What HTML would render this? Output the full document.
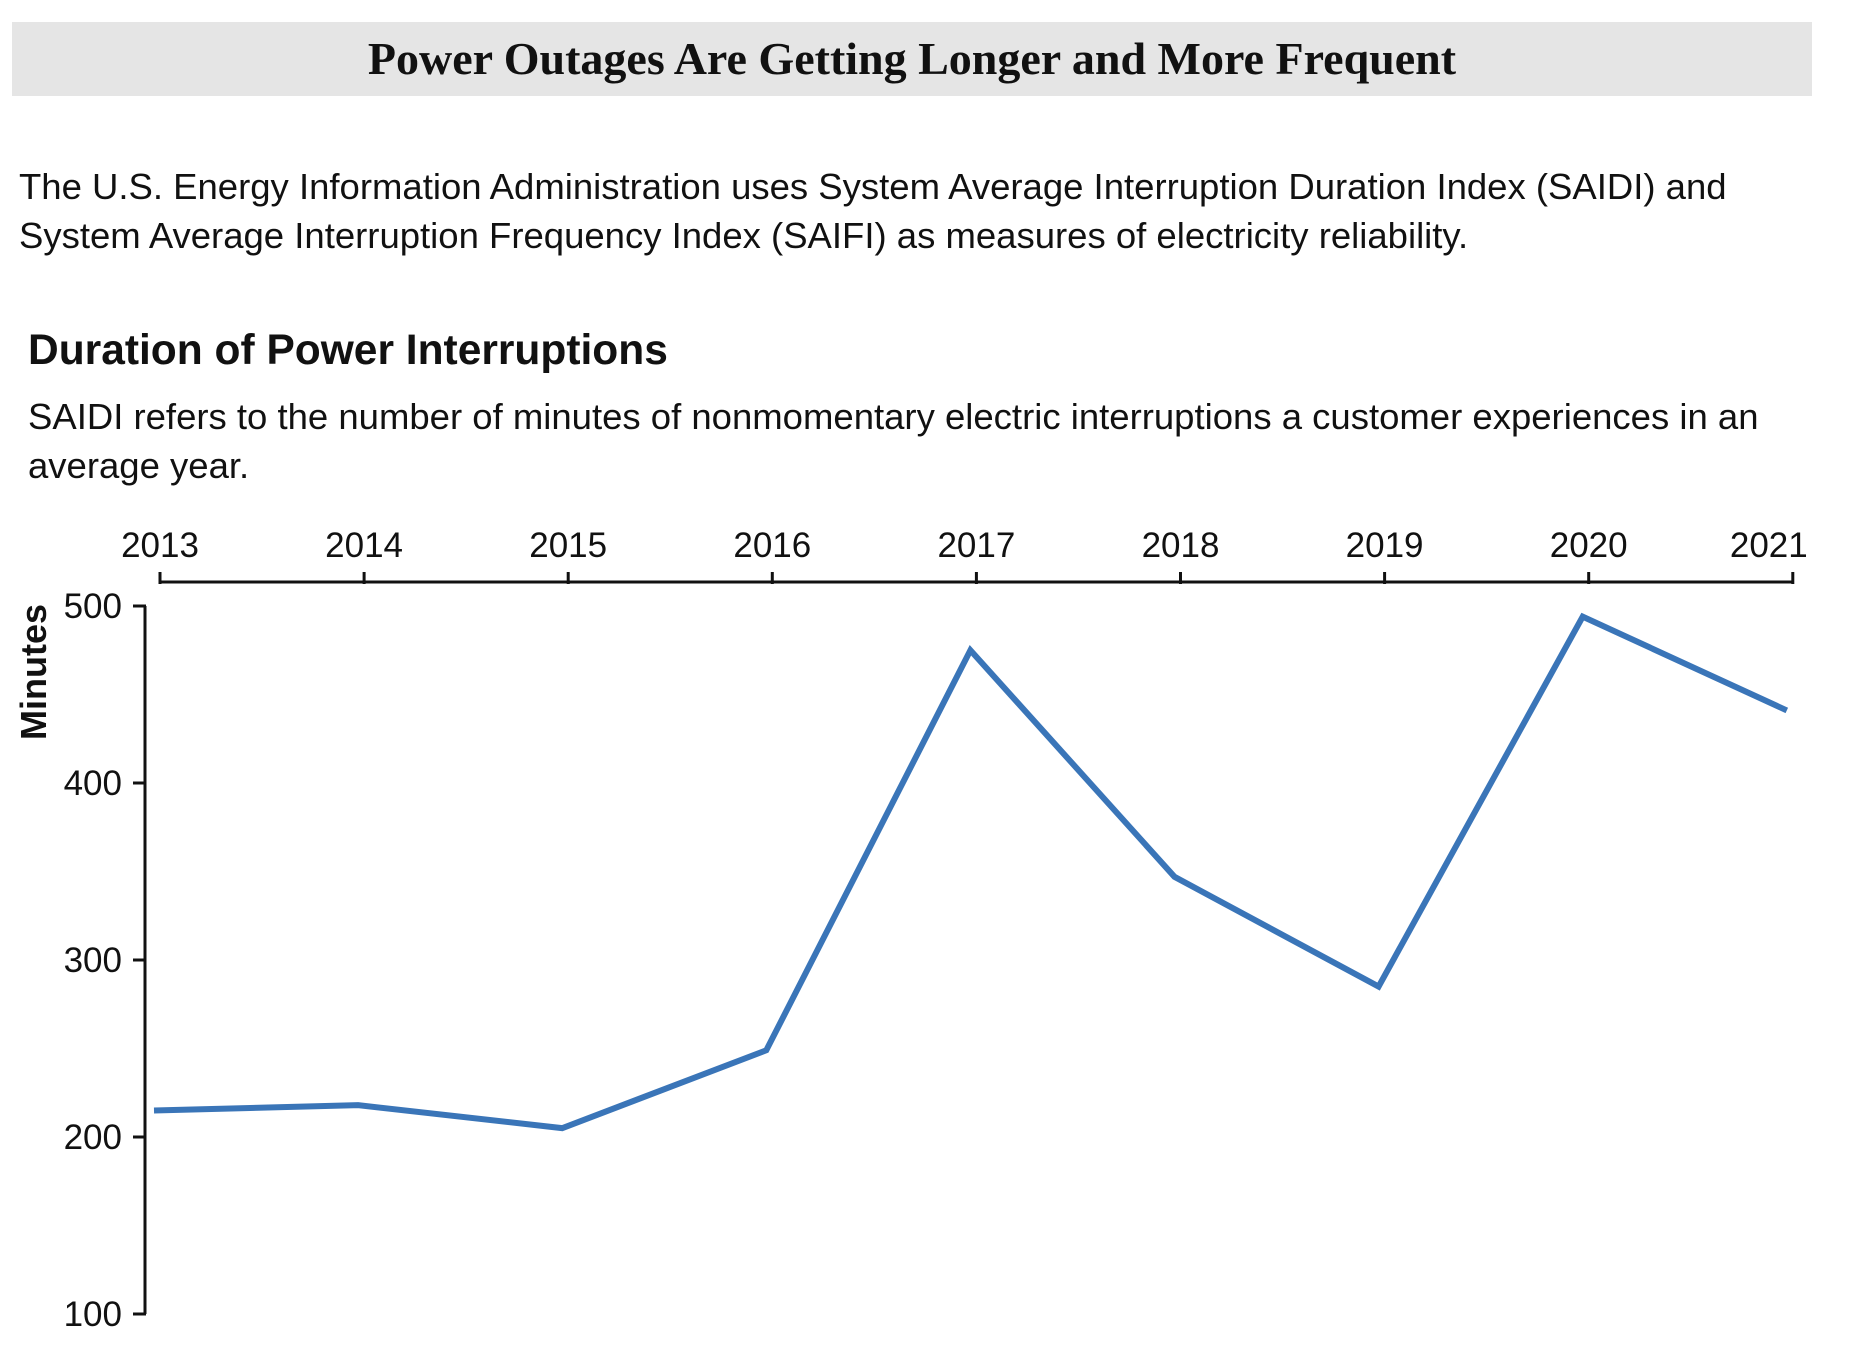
<!DOCTYPE html>
<html><head><meta charset="utf-8"><style>
body{margin:0;width:1862px;height:1372px;background:#fff;overflow:hidden;font-family:"Liberation Sans",sans-serif;color:#111;position:relative}
.abs{position:absolute}
</style></head><body>
<div class="abs" style="left:12px;top:22px;width:1800px;height:74px;background:#e5e5e5"></div>
<div class="abs" style="left:12px;top:22px;width:1800px;height:74px;line-height:74px;text-align:center;font-family:'Liberation Serif',serif;font-weight:bold;font-size:46px">Power Outages Are Getting Longer and More Frequent</div>
<div class="abs" style="left:19px;top:162px;width:1750px;font-size:36.5px;line-height:49px">The U.S. Energy Information Administration uses System Average Interruption Duration Index (SAIDI) and System Average Interruption Frequency Index (SAIFI) as measures of electricity reliability.</div>
<div class="abs" style="left:28px;top:327px;font-size:42.5px;font-weight:bold">Duration of Power Interruptions</div>
<div class="abs" style="left:28px;top:392px;width:1800px;font-size:36.5px;line-height:49px">SAIDI refers to the number of minutes of nonmomentary electric interruptions a customer experiences in an average year.</div>
<svg class="abs" style="left:0;top:0" width="1862" height="1372">
<g id="g"></g>
</svg>
<script>
const years=[2013,2014,2015,2016,2017,2018,2019,2020,2021];
const saidi=[215,218,205,249,475,347,285,494,441];
const yTicks=[100,200,300,400,500];
const NS="http://www.w3.org/2000/svg";
const g=document.getElementById('g');
const x=yr=>160+(yr-2013)*204.1;
const y=v=>606+(500-v)*1.77;
function mk(t,a,txt){const e=document.createElementNS(NS,t);for(const k in a)e.setAttribute(k,a[k]);if(txt!==undefined)e.textContent=txt;g.appendChild(e);return e;}
let e=mk('line',{x1:x(2013),x2:x(2021),y1:582,y2:582,stroke:'#111','stroke-width':3});


years.forEach(yr=>{
 let t=mk('line',{x1:x(yr),x2:x(yr),y1:572,y2:584,stroke:'#111','stroke-width':3});
 
 
 let l=mk('text',{x:yr===2021?x(yr)-24:x(yr),y:557,'text-anchor':'middle','font-size':35,fill:'#111'},String(yr));
 
 
});
e=mk('line',{x1:145,x2:145,y1:y(500),y2:y(100),stroke:'#111','stroke-width':3});


yTicks.forEach(v=>{
 let t=mk('line',{x1:133,x2:146,y1:y(v),y2:y(v),stroke:'#111','stroke-width':3});
 
 
 let l=mk('text',{x:122,y:y(v)+12,'text-anchor':'end','font-size':35,fill:'#111'},String(v));
 
 
});
e=mk('text',{x:0,y:0,transform:'translate(46,672) rotate(-90)','text-anchor':'middle','font-size':36,'font-weight':'bold',fill:'#111'},'Minutes');


e=mk('polyline',{points:years.map((yr,i)=>(x(yr)-6)+','+y(saidi[i])).join(' '),fill:'none',stroke:'#3a75b8','stroke-width':6,'stroke-linejoin':'miter'});


</script>
</body></html>
